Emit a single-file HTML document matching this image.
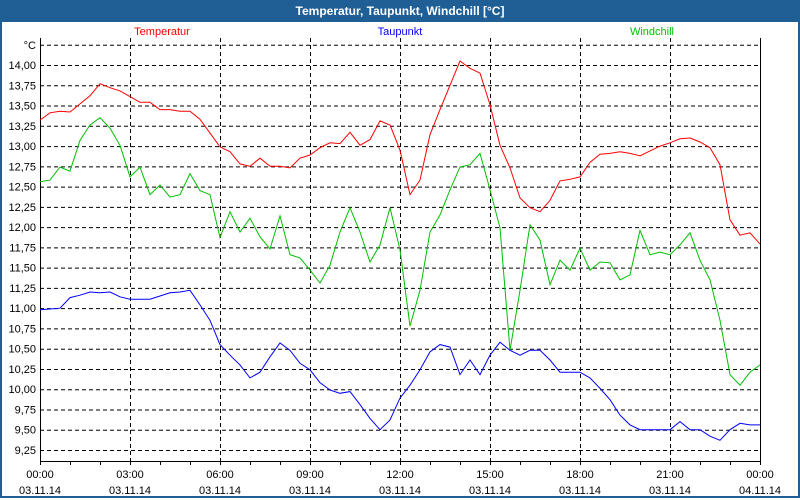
<!DOCTYPE html>
<html><head><meta charset="utf-8">
<style>
body{margin:0;width:800px;height:500px;overflow:hidden;background:#fff;font-family:"Liberation Sans",sans-serif;}
#frame{position:absolute;left:0;top:0;width:796px;height:496px;border:2px solid #1f5f96;border-top:none;}
#title{position:absolute;left:0;top:0;width:800px;height:22px;background:#1f5f96;color:#fff;font-weight:bold;font-size:12px;line-height:22px;text-align:center;}
svg{position:absolute;left:0;top:0;}
</style></head><body>
<div id="frame"></div>
<div id="title">Temperatur, Taupunkt, Windchill [°C]</div>
<svg id="chart" width="800" height="500"></svg>
<script>
const yTicks=[9.25,9.5,9.75,10,10.25,10.5,10.75,11,11.25,11.5,11.75,12,12.25,12.5,12.75,13,13.25,13.5,13.75,14];
const xTickHours=[0,3,6,9,12,15,18,21,24];
const xTickTimes=["00:00","03:00","06:00","09:00","12:00","15:00","18:00","21:00","00:00"];
const xTickDates=["03.11.14","03.11.14","03.11.14","03.11.14","03.11.14","03.11.14","03.11.14","03.11.14","04.11.14"];
const stepHours=1/3;
const temperatur=[13.32,13.41,13.43,13.42,13.52,13.62,13.77,13.72,13.68,13.61,13.54,13.54,13.45,13.45,13.43,13.43,13.33,13.16,12.99,12.93,12.78,12.75,12.85,12.75,12.75,12.73,12.85,12.89,12.98,13.04,13.03,13.17,13.01,13.08,13.31,13.26,12.95,12.40,12.58,13.14,13.45,13.75,14.05,13.96,13.90,13.51,13.01,12.73,12.36,12.24,12.19,12.33,12.57,12.59,12.62,12.80,12.90,12.91,12.93,12.91,12.88,12.94,13.00,13.04,13.09,13.10,13.05,12.98,12.77,12.09,11.90,11.93,11.79];
const taupunkt=[10.98,10.99,11.00,11.13,11.16,11.20,11.19,11.20,11.14,11.11,11.11,11.11,11.15,11.19,11.20,11.22,11.04,10.85,10.55,10.42,10.30,10.14,10.21,10.40,10.57,10.48,10.32,10.24,10.08,9.99,9.95,9.97,9.81,9.64,9.50,9.62,9.89,10.05,10.24,10.46,10.55,10.52,10.18,10.36,10.18,10.42,10.58,10.48,10.42,10.48,10.48,10.36,10.21,10.21,10.21,10.14,10.01,9.87,9.68,9.56,9.50,9.50,9.50,9.50,9.60,9.50,9.50,9.42,9.37,9.50,9.58,9.56,9.56];
const windchill=[12.56,12.58,12.74,12.69,13.07,13.26,13.35,13.22,13.01,12.62,12.74,12.40,12.52,12.37,12.40,12.66,12.45,12.40,11.87,12.19,11.94,12.11,11.88,11.73,12.14,11.66,11.62,11.47,11.31,11.53,11.94,12.24,11.94,11.57,11.78,12.24,11.72,10.78,11.22,11.94,12.15,12.46,12.74,12.77,12.91,12.46,11.99,10.48,11.22,12.03,11.84,11.29,11.59,11.47,11.74,11.47,11.57,11.56,11.35,11.41,11.96,11.66,11.69,11.66,11.78,11.93,11.59,11.35,10.85,10.18,10.05,10.21,10.30];

const NS="http://www.w3.org/2000/svg";
const svg=document.getElementById('chart');
const X0=40,X1=760,YTOP=38,YBOT=461;
const x=h=>X0+h*30;
const y=v=>450-(v-9.25)*81.05;
function mk(tag,attrs,parent){const e=document.createElementNS(NS,tag);for(const k in attrs)e.setAttribute(k,attrs[k]);(parent||svg).appendChild(e);return e;}

// horizontal grid + y labels
yTicks.concat([14.25]).forEach((v,i)=>{
  const g=mk('line',{x1:X0,x2:X1,y1:y(v)+0.5,y2:y(v)+0.5,stroke:'#000','stroke-dasharray':'4,3','stroke-width':1});
  
  
});
yTicks.forEach(v=>{
  const t=mk('text',{x:36,y:y(v)+4,'text-anchor':'end','font-size':11,fill:'#000'});
  t.textContent=v.toFixed(2).replace('.',',');
  
  
});
const unit=mk('text',{x:36,y:y(14.25)+4,'text-anchor':'end','font-size':11,fill:'#000'});
unit.textContent='°C';



// vertical grid
xTickHours.forEach((h,i)=>{
  if(i>0&&i<xTickHours.length-1){
    const g=mk('line',{x1:x(h)+0.5,x2:x(h)+0.5,y1:YTOP,y2:YBOT,stroke:'#000','stroke-dasharray':'4,3'});
    
    
  }
  const t1=mk('text',{x:x(h),y:478,'text-anchor':'middle','font-size':11,fill:'#000'});
  t1.textContent=xTickTimes[i];
  
  
  const t2=mk('text',{x:x(h),y:494,'text-anchor':'middle','font-size':11,fill:'#000'});
  t2.textContent=xTickDates[i];
  
  
});
for(let h=0;h<=24;h++){
  const tk=mk('line',{x1:x(h)+0.5,x2:x(h)+0.5,y1:YBOT,y2:YBOT+4,stroke:'#000'});
  
  
}
// axes
const ax=mk('path',{d:`M${X0+0.5},${YTOP}V${YBOT+0.5}H${X1+0.5}V${YTOP}`,fill:'none',stroke:'#000'});



// series
function series(arr,color,name){
  const d=arr.map((v,i)=>(i?'L':'M')+x(i*stepHours).toFixed(1)+','+y(v).toFixed(1)).join('');
  const p=mk('path',{d:d,fill:'none',stroke:color,'stroke-width':1});
  
  
}
series(windchill,'#00c000','windchill-line');
series(taupunkt,'#0000ff','taupunkt-line');
series(temperatur,'#ff0000','temperatur-line');

// legend
[['Temperatur','#ff0000',162,'legend-temperatur'],['Taupunkt','#0000ff',400,'legend-taupunkt'],['Windchill','#00c000',652,'legend-windchill']].forEach(l=>{
  const t=mk('text',{x:l[2],y:35,'text-anchor':'middle','font-size':11,fill:l[1]});
  t.textContent=l[0];
  
  
});
</script>
</body></html>
